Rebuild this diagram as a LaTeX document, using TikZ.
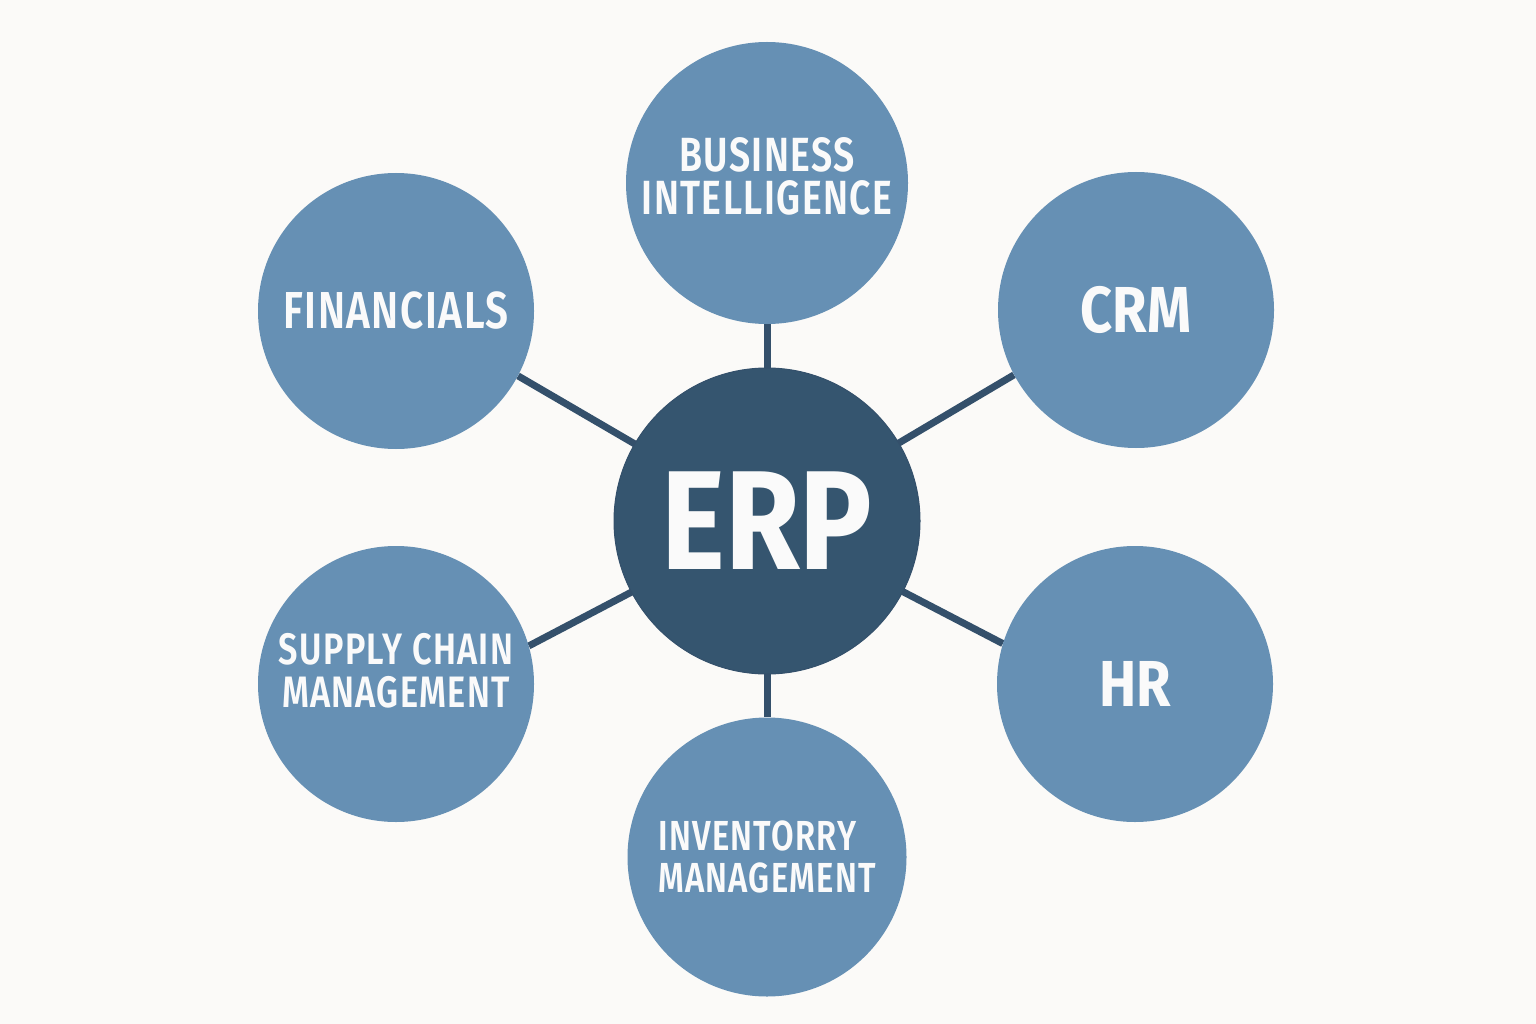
\documentclass[tikz,border=0pt]{standalone}
\usepackage{fontspec}
\setmainfont{Fira Sans}[FakeStretch=0.78,LetterSpace=3,BoldFont={Fira Sans SemiBold}]
\newfontfamily\hubfont{Fira Sans Bold}[FakeStretch=0.86]
\usepackage{xcolor}
\usepackage{tikz}
\usetikzlibrary{positioning,backgrounds}
\definecolor{erpBg}{HTML}{FBFAF8}
\definecolor{erpDark}{HTML}{35556F}
\definecolor{erpLine}{HTML}{34506B}
\definecolor{erpLight}{HTML}{6690B4}
\definecolor{erpText}{HTML}{FAFAFA}

\begin{document}
\begin{tikzpicture}[
  x=1pt, y=-1pt,
  hub/.style={
    circle, fill=erpDark, draw=erpLine, line width=1pt,
    minimum size=306pt, inner sep=0pt,
    text=erpText, font=\hubfont\fontsize{141}{141}\selectfont
  },
  module/.style 2 args={
    circle, fill=erpLight, draw=none,
    minimum size=276pt, inner sep=0pt,
    text=erpText, align=center,
    font=\bfseries\fontsize{#1}{#2}\selectfont
  },
  short/.style={font=\hubfont\fontsize{65}{65}\selectfont},
  link/.style={line width=7pt, erpLine},
]

% === Canvas ===
\useasboundingbox (0,0) rectangle (1536,1024);

% === Hub ===
\node[hub] (erp) at (767,521) {ERP};

% === Modules around the hub ===
\node[module={48}{43}, minimum size=282pt] (bi) at (767,183)
  {BUSINESS\\INTELLIGENCE\rule[-14pt]{0pt}{0pt}};
\node[module={52}{52}] (fin) at (396,311) {FINANCIALS};
\node[module={65}{65}, short] (crm) at (1136,310) {CRM};
\node[module={44}{43}] (scm) at (396,684)
  {SUPPLY CHAIN\\MANAGEMENT\rule[-28pt]{0pt}{0pt}};
\node[module={65}{65}, short] (hr) at (1135,684) {HR};
\node[module={42}{42}, minimum size=279pt, align=left] (inv) at (767,857)
  {INVENTORRY\\MANAGEMENT};

% === Spokes (behind the circles) ===
\begin{scope}[on background layer]
  \fill[erpBg] (0,0) rectangle (1536,1024);
  \draw[link] (erp.center) -- (bi.south);
  \draw[link] (erp.center) -- (fin.-28);
  \draw[link] (erp.center) -- (crm.208);
  \draw[link] (erp.center) -- (scm.16);
  \draw[link] (erp.center) -- (hr.163);
  \draw[link] (erp.center) -- (inv.north);
\end{scope}

\end{tikzpicture}
\end{document}
